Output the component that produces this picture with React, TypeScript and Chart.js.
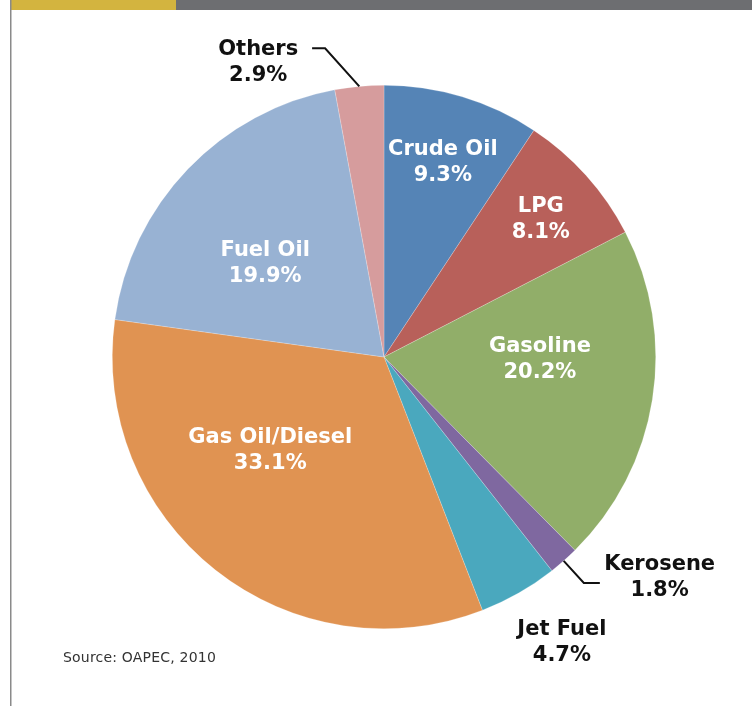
import React, { useEffect, useRef } from "react";
import { Chart, registerables } from "chart.js";

Chart.register(...registerables);

const categories = ["Crude Oil", "LPG", "Gasoline", "Kerosene", "Jet Fuel", "Gas Oil/Diesel", "Fuel Oil", "Others"];
const shares = [9.3, 8.1, 20.2, 1.8, 4.7, 33.1, 19.9, 2.9];
const shareLabels = ["9.3%", "8.1%", "20.2%", "1.8%", "4.7%", "33.1%", "19.9%", "2.9%"];
const sliceColors = ["#5584b6", "#b8605a", "#91ae69", "#7f68a0", "#4aa8be", "#e09352", "#98b2d3", "#d69c9d"];
const sourceNote = "Source: OAPEC, 2010";

// label layout: [angle in degrees clockwise from top, radius fraction, inside?]
const labelLayout: [number, number, boolean][] = [
  [16.8, 0.749, true],
  [48.7, 0.768, true],
  [91.1, 0.574, true],
  [128.7, 1.3, false],
  [148.1, 1.239, false],
  [230.7, 0.541, true],
  [308.3, 0.557, true],
  [336.9, 1.18, false],
];
// leader lines: index -> [elbow angle, elbow radius fraction, horizontal run px]
const leaderLayout: Record<number, [number, number, number]> = {
  3: [138.5, 1.11, 16],
  7: [349.2, 1.157, -13],
};

const polar = (cx: number, cy: number, r: number, deg: number) => {
  const a = (deg * Math.PI) / 180;
  return { x: cx + r * Math.sin(a), y: cy - r * Math.cos(a) };
};

const decorPlugin = {
  id: "decor",
  beforeDraw(chart: any) {
    const ctx = chart.ctx;
    ctx.save();
    ctx.fillStyle = "#d3b43f";
    ctx.fillRect(11, 0, 165, 10);
    ctx.fillStyle = "#6d6e71";
    ctx.fillRect(176, 0, 576, 10);
    ctx.fillStyle = "#8a8a8a";
    ctx.fillRect(10, 0, 1.5, 706);
    ctx.restore();
  },
  afterDatasetsDraw(chart: any) {
    const ctx = chart.ctx;
    const meta = chart.getDatasetMeta(0);
    const arc0 = meta.data[0];
    const cx = arc0.x;
    const cy = arc0.y;
    const R = arc0.outerRadius;
    ctx.save();
    ctx.strokeStyle = "#111";
    ctx.lineWidth = 2;
    Object.keys(leaderLayout).forEach((k) => {
      const i = Number(k);
      const el = meta.data[i];
      const mid = ((el.startAngle + el.endAngle) / 2 + Math.PI / 2) * 180 / Math.PI;
      const edge = polar(cx, cy, R, mid);
      const [ea, er, run] = leaderLayout[i];
      const elbow = polar(cx, cy, R * er, ea);
      ctx.beginPath();
      ctx.moveTo(edge.x, edge.y);
      ctx.lineTo(elbow.x, elbow.y);
      ctx.lineTo(elbow.x + run, elbow.y);
      ctx.stroke();
    });
    ctx.font = "bold 21px 'DejaVu Sans'";
    ctx.textAlign = "center";
    ctx.textBaseline = "middle";
    categories.forEach((name, i) => {
      const [ang, rf, inside] = labelLayout[i];
      const p = polar(cx, cy, R * rf, ang);
      ctx.fillStyle = inside ? "#ffffff" : "#111111";
      ctx.fillText(name, p.x, p.y - 13);
      ctx.fillText(shareLabels[i], p.x, p.y + 13);
    });
    ctx.restore();
  },
};

export default function App() {
  const ref = useRef<HTMLCanvasElement | null>(null);
  useEffect(() => {
    document.body.style.margin = "0";
    const chart = new Chart(ref.current as HTMLCanvasElement, {
      type: "pie",
      data: {
        labels: categories,
        datasets: [
          {
            data: shares,
            backgroundColor: sliceColors,
            borderColor: "rgba(255,255,255,0.35)",
            borderWidth: 0.6,
          },
        ],
      },
      options: {
        responsive: false,
        animation: false,
        layout: { padding: { left: 112, right: 96, top: 85, bottom: 77 } },
        plugins: {
          legend: { display: false },
          tooltip: { enabled: false },
        },
      },
      plugins: [decorPlugin],
    });
    return () => chart.destroy();
  }, []);
  return (
    <div style={{ position: "relative", width: 752, height: 706, background: "#fff" }}>
      <canvas ref={ref} width={752} height={706} style={{ position: "absolute", left: 0, top: 0 }} />
      <div
        style={{
          position: "absolute",
          left: 63,
          top: 649,
          fontFamily: "'DejaVu Sans', sans-serif",
          fontSize: 14,
          letterSpacing: 0.2,
          color: "#333",
          whiteSpace: "nowrap",
        }}
      >
        {sourceNote}
      </div>
    </div>
  );
}
